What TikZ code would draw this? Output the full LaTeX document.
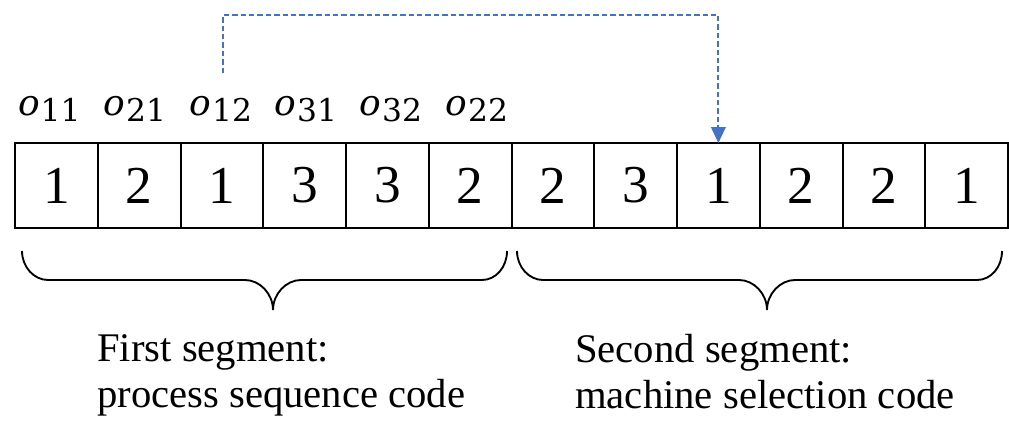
\documentclass[tikz,border=0pt]{standalone}
\usepackage{fontspec}
\setmainfont{Liberation Serif}
\newfontfamily\labfont{DejaVu Serif}
\usetikzlibrary{arrows.meta}
\newcommand{\olab}[2]{{\fontsize{27}{27}\selectfont\itshape o}\kern0.5pt\raisebox{-5pt}{\fontsize{23.5}{23.5}\selectfont #1#2}}
\begin{document}
\begin{tikzpicture}[x=0.75pt,y=-0.75pt,
  cell/.style={draw,line width=1.5pt,minimum width=62.06pt,minimum height=63.75pt,inner sep=0pt,outer sep=0pt,font=\fontsize{40}{40}\selectfont},
  oname/.style={anchor=base,inner sep=0pt,font=\labfont},
  dashline/.style={draw=arrowblue,line width=1.4pt,dash pattern=on 4pt off 2.3pt,-{Triangle[length=12pt,width=11pt]}},
  bracestyle/.style={line width=1.4pt},
  caption/.style={anchor=north west,inner sep=0pt,align=left,font=\fontsize{30.5}{34.5}\selectfont}]
\definecolor{arrowblue}{HTML}{4472C4}
\useasboundingbox (0,0) rectangle (1009,421);
% cells
\foreach \v [count=\i] in {1,2,1,3,3,2,2,3,1,2,2,1}{
  \node[cell] (b\i) at ({15+82.75*(\i-0.5)},185.5) {\v};
}
% labels
\node[oname] (o11) at (49.5,115) {\olab11};
\node[oname] (o21) at (135,115) {\olab21};
\node[oname] (o12) at (221,115) {\olab12};
\node[oname] (o31) at (306,115) {\olab31};
\node[oname] (o32) at (391,115) {\olab32};
\node[oname] (o22) at (477,115) {\olab22};
% dashed connector
\coordinate (st) at (223,73);
\coordinate (cr) at (223,15);
\draw[dashline] (st) -- (cr) -| (b9.north);
% braces
\draw[bracestyle] (22,251) .. controls (22,267) and (34,280) .. (48,280)
  -- (245,280) .. controls (260,280) and (273,294) .. (273,310)
  .. controls (273,294) and (286,280) .. (301,280)
  -- (482,280) .. controls (496,280) and (507,267) .. (507,251);
\draw[bracestyle] (517,251) .. controls (517,267) and (529,280) .. (543,280)
  -- (739,280) .. controls (754,280) and (767,294) .. (767,310)
  .. controls (767,294) and (780,280) .. (795,280)
  -- (977,280) .. controls (991,280) and (1002,267) .. (1002,251);
% captions
\node[caption] (c1) at (97,334) {First segment:\\process sequence code};
\node[caption] (c2) at (575,334) {Second segment:\\machine selection code};
\end{tikzpicture}
\end{document}
